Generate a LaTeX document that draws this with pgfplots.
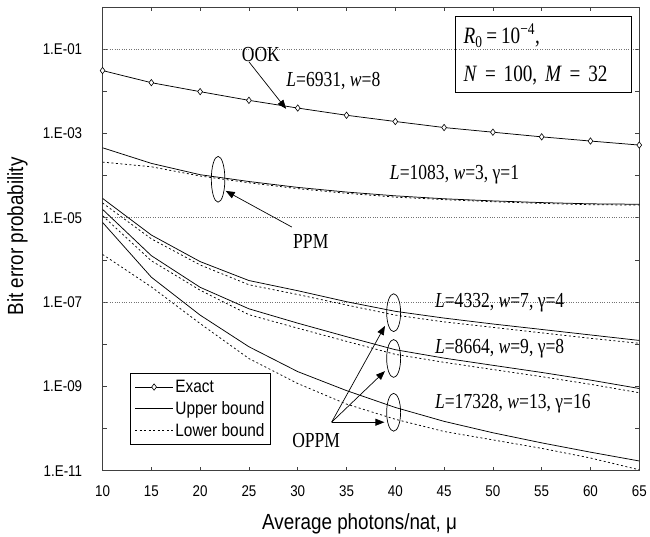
\documentclass[border=0pt]{standalone}
\usepackage{pgfplots}
\pgfplotsset{compat=1.18}
\usetikzlibrary{arrows.meta}
\usepackage{fontspec}
\setmainfont{Liberation Sans}[FakeStretch=0.86]
\newfontfamily\tms{Liberation Serif}[FakeStretch=0.82]
\begin{document}
\begin{tikzpicture}
\begin{axis}[
  name=ax,
  scale only axis, width=539pt, height=465.7pt,
  xmin=10, xmax=65, ymode=log, ymin=1e-11, ymax=1,
  xtick={10,15,...,65},
  ytick={1e-11,1e-10,1e-9,1e-8,1e-7,1e-6,1e-5,1e-4,1e-3,1e-2,1e-1},
  yticklabels={1.E-11,,1.E-09,,1.E-07,,1.E-05,,1.E-03,,1.E-01},
  yminorticks=false,
  /pgf/number format/assume math mode=true,
  tick align=inside, major tick length=4pt,
  axis line style={black!75, line width=0.7pt},
  every tick/.style={black!75, line width=0.6pt},
  tick label style={font=\fontsize{15.6}{18}\selectfont},
  yticklabel style={xshift=-17pt},
  xticklabel style={yshift=-12pt},
  xlabel={Average photons/nat, μ},
  ylabel={Bit error probability},
  label style={font=\fontsize{22}{25}\selectfont},
  xlabel style={at={(axis description cs:0.479,0)}, anchor=center, yshift=-53pt},
  ylabel style={at={(axis description cs:-0.1586,0.505)}, anchor=center},
  extra y ticks={1e-1,1e-5,1e-7},
  extra y tick labels={},
  extra y tick style={grid=major, major tick length=0pt},
  major grid style={black!55, dotted, line width=0.6pt},
  legend image code/.code={\draw[mark repeat=2,mark phase=2,#1] plot coordinates {(0pt,0pt) (19pt,0pt) (38pt,0pt)};},
  legend style={at={(rel axis cs:0.052,0.055)}, anchor=south west, draw=black, line width=0.7pt,
    font=\fontsize{18}{20}\selectfont, inner xsep=4pt, inner ysep=5pt, row sep=3.5pt},
  legend cell align=left,
  every axis plot/.append style={line width=0.75pt},
]
% OOK exact
\addplot[black, mark=diamond*, mark size=3.2pt, mark options={fill=white, line width=0.6pt}] coordinates {
(10,3.1e-2) (15,1.6e-2) (20,9.8e-3) (25,6.1e-3) (30,4.0e-3) (35,2.7e-3)
(40,1.92e-3) (45,1.38e-3) (50,1.07e-3) (55,8.3e-4) (60,6.6e-4) (65,5.3e-4)};
\addlegendentry{Exact}
% PPM upper
\addplot[black] coordinates {
(10,4.57e-4) (15,1.95e-4) (20,1.05e-4) (25,7.24e-5) (30,5.25e-5) (35,4.07e-5)
(40,3.31e-5) (45,2.82e-5) (50,2.51e-5) (55,2.29e-5) (60,2.14e-5) (65,2.09e-5)};
\addlegendentry{Upper bound}
% PPM lower
\addplot[black, dash pattern=on 2pt off 2.5pt] coordinates {
(10,2.09e-4) (15,1.62e-4) (20,9.77e-5) (25,6.76e-5) (30,4.90e-5) (35,3.80e-5)
(40,3.09e-5) (45,2.69e-5) (50,2.40e-5) (55,2.19e-5) (60,2.04e-5) (65,2.00e-5)};
\addlegendentry{Lower bound}
% OPPM gamma=4
\addplot[black, forget plot] coordinates {
(10,2.88e-5) (15,3.89e-6) (20,9.12e-7) (25,3.24e-7) (30,1.86e-7) (35,1.02e-7)
(40,6.03e-8) (45,4.17e-8) (50,3.02e-8) (55,2.24e-8) (60,1.66e-8) (65,1.23e-8)};
\addplot[black, dash pattern=on 2pt off 2.5pt, forget plot] coordinates {
(10,2.24e-5) (15,3.16e-6) (20,7.59e-7) (25,2.57e-7) (30,1.51e-7) (35,8.51e-8)
(40,4.90e-8) (45,3.39e-8) (50,2.51e-8) (55,1.86e-8) (60,1.38e-8) (65,1.05e-8)};
% OPPM gamma=8
\addplot[black, forget plot] coordinates {
(10,1.58e-5) (15,1.26e-6) (20,2.24e-7) (25,6.92e-8) (30,3.16e-8) (35,1.51e-8)
(40,7.41e-9) (45,4.68e-9) (50,3.16e-9) (55,2.14e-9) (60,1.41e-9) (65,8.91e-10)};
\addplot[black, dash pattern=on 2pt off 2.5pt, forget plot] coordinates {
(10,1.12e-5) (15,9.55e-7) (20,1.91e-7) (25,5.01e-8) (30,2.40e-8) (35,1.17e-8)
(40,5.75e-9) (45,3.72e-9) (50,2.51e-9) (55,1.70e-9) (60,1.12e-9) (65,7.08e-10)};
% OPPM gamma=16
\addplot[black, forget plot] coordinates {
(10,7.76e-6) (15,3.89e-7) (20,4.90e-8) (25,8.71e-9) (30,2.24e-9) (35,7.94e-10)
(40,3.16e-10) (45,1.48e-10) (50,7.94e-11) (55,4.57e-11) (60,2.75e-11) (65,1.70e-11)};
\addplot[black, dash pattern=on 2pt off 2.5pt, forget plot] coordinates {
(10,1.35e-6) (15,2.29e-7) (20,3.09e-8) (25,4.57e-9) (30,1.17e-9) (35,3.80e-10)
(40,1.66e-10) (45,8.51e-11) (50,5.37e-11) (55,3.39e-11) (60,2.00e-11) (65,1.05e-11)};

% annotations
\node[font=\tms\fontsize{21.5}{24}\selectfont, anchor=center] at (rel axis cs:0.295,0.897) {OOK};
\draw[line width=0.7pt, -{Triangle[length=9pt,width=7pt]}] (axis cs:25.0,5.0e-2) -- (axis cs:28.81,3.83e-3);
\node[font=\tms\fontsize{21.5}{24}\selectfont, anchor=center] at (rel axis cs:0.430,0.840) {\textit{L}=6931, \textit{w}=8};

\node[draw, line width=0.8pt, font=\tms\fontsize{23.5}{38}\selectfont, align=left, text width=161pt,
  inner xsep=8pt, inner ysep=6pt, minimum height=76pt, anchor=center] at (rel axis cs:0.822,0.897)
  {\textit{R}\textsubscript{0}\,=\,10\textsuperscript{−4},\\\textit{N} = 100, \textit{M} = 32};

\draw[line width=0.7pt] (axis cs:21.84,8.18e-5) ellipse [x radius=6.8pt, y radius=23pt];
\draw[line width=0.7pt, -{Triangle[length=9pt,width=7pt]}] (axis cs:29.39,6.03e-6) -- (axis cs:22.62,4.33e-5);
\node[font=\tms\fontsize{21.5}{24}\selectfont, anchor=center] at (rel axis cs:0.388,0.494) {PPM};
\node[font=\tms\fontsize{21.5}{24}\selectfont, anchor=west] at (rel axis cs:0.529,0.639) {\textit{L}=1083, \textit{w}=3, γ=1};

\draw[line width=0.7pt] (axis cs:39.83,5.6e-8) ellipse [x radius=7pt, y radius=19pt];
\draw[line width=0.7pt] (axis cs:39.83,4.59e-9) ellipse [x radius=7pt, y radius=19pt];
\draw[line width=0.7pt] (axis cs:39.83,2.43e-10) ellipse [x radius=7pt, y radius=19pt];
\draw[line width=0.7pt, -{Triangle[length=9pt,width=7pt]}] (axis cs:33.47,1.41e-10) -- (axis cs:38.94,2.72e-8);
\draw[line width=0.7pt, -{Triangle[length=9pt,width=7pt]}] (axis cs:33.47,1.41e-10) -- (axis cs:38.94,2.30e-9);
\draw[line width=0.7pt, -{Triangle[length=9pt,width=7pt]}] (axis cs:33.47,1.41e-10) -- (axis cs:38.88,1.41e-10);
\node[font=\tms\fontsize{21.5}{24}\selectfont, anchor=center] at (rel axis cs:0.398,0.064) {OPPM};
\node[font=\tms\fontsize{21.5}{24}\selectfont, anchor=west] at (rel axis cs:0.613,0.362) {\textit{L}=4332, \textit{w}=7, γ=4};
\node[font=\tms\fontsize{21.5}{24}\selectfont, anchor=west] at (rel axis cs:0.613,0.263) {\textit{L}=8664, \textit{w}=9, γ=8};
\node[font=\tms\fontsize{21.5}{24}\selectfont, anchor=west] at (rel axis cs:0.613,0.145) {\textit{L}=17328, \textit{w}=13, γ=16};
\end{axis}
\path ([xshift=-103pt,yshift=-64.3pt]ax.south west) rectangle ([xshift=8pt,yshift=7pt]ax.north east);
\end{tikzpicture}
\end{document}
